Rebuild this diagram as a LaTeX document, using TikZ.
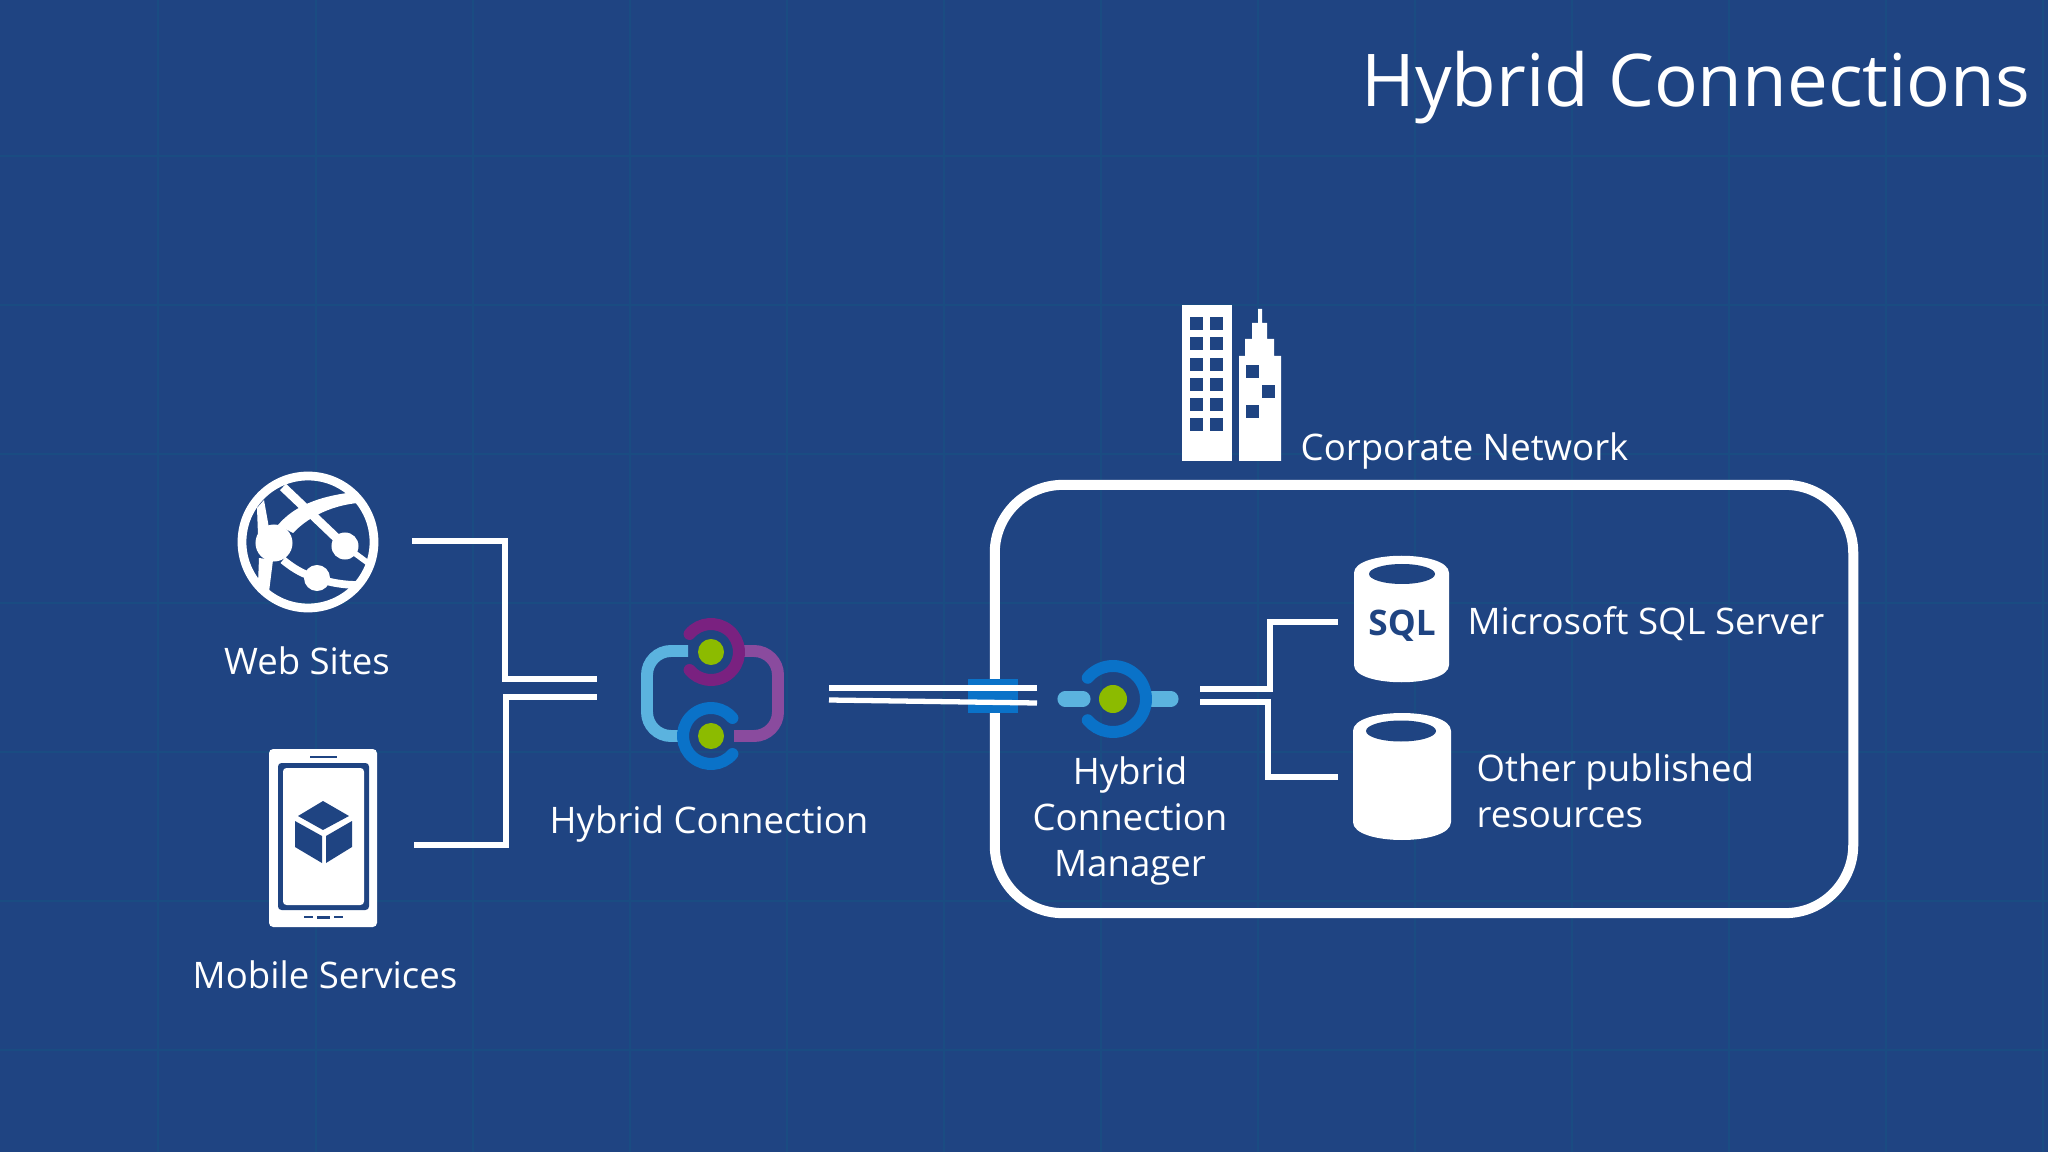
\documentclass[tikz,border=0pt]{standalone}
\usepackage{fontspec}
\setmainfont{Open Sans}
\definecolor{slide}{HTML}{1F4482}
\definecolor{gridline}{HTML}{1A4C82}
\definecolor{hcleaf}{HTML}{8CBB00}
\definecolor{hcsky}{HTML}{5BB3DF}
\definecolor{hcblue}{HTML}{0A72C8}
\definecolor{hcplum}{HTML}{7A2180}
\definecolor{hcmauve}{HTML}{8A4B9E}
\begin{document}
\begin{tikzpicture}[
	x = 0.01cm, y = -0.01cm, % one unit is one pixel of the slide
	wire/.style = {draw=white, line width=1.5pt, miter limit=10},
	arcline/.style = {line width=3.4pt},
	fillw/.style = {fill=white, draw=none},
	fillb/.style = {fill=slide, draw=none},
	dot/.style = {circle, fill=hcleaf, inner sep=0pt, minimum size=0.28cm},
	label/.style = {text=white, font=\fontsize{10.4}{13.1}\selectfont, inner sep=0pt, align=center},
	]

	\useasboundingbox (0,0) rectangle (2048,1152);
	\fill[slide] (0,0) rectangle (2048,1152);
	\foreach \gx in {158,316,473,630,787,944,1101,1258,1415,1572,1729,1886,2043}
		\draw[gridline, line width=0.6pt] (\gx,0) -- (\gx,1152);
	\foreach \gy in {156,305,454,603,752,901,1050}
		\draw[gridline, line width=0.5pt] (0,\gy) -- (2048,\gy);

	% title and labels
	\node[label, anchor=east, font=\fontsize{20.7}{26}\selectfont] (title) at (2031,88) {Hybrid Connections};
	\node[label] (weblabel) at (307,661) {Web Sites};
	\node[label] (moblabel) at (325,975) {Mobile Services};
	\node[label] (hclabel) at (709,824) {Hybrid Connection};
	\node[label, anchor=west] (corplabel) at (1300,451) {Corporate Network};
	\node[label, anchor=west] (sqllabel) at (1467,624) {Microsoft SQL Server};
	\node[label, anchor=west, align=left] (otherlabel) at (1476,791) {Other published\\resources};
	\node[label] (hcmlabel) at (1130,821) {Hybrid\\Connection\\Manager};

	% corporate network frame
	\node[draw=white, line width=2.85pt, rounded corners=0.68cm, minimum width=8.58cm, minimum height=4.28cm, outer sep=0pt] (corp) at (1424,699) {};

	% connector end points
	\coordinate (webout) at (412,541);
	\coordinate (mobout) at (414,845);
	\coordinate (hcina) at (597,679);
	\coordinate (hcinb) at (597,697);
	\coordinate (hcouta) at (829,688);
	\coordinate (hcoutb) at (829,700);
	\coordinate (hcmina) at (1037,688);
	\coordinate (hcminb) at (1037,703);
	\coordinate (hcmouta) at (1200,689);
	\coordinate (hcmoutb) at (1200,702);
	\coordinate (sqlin) at (1338,622);
	\coordinate (otherin) at (1338,777);

	\fill[hcblue] (968,679) rectangle (1018,713);
	\draw[wire] (webout) -- ++(93,0) |- (hcina);
	\draw[wire] (mobout) -- ++(92,0) |- (hcinb);
	\draw[wire] (hcouta) -- (hcmina);
	\draw[wire] (hcoutb) -- (hcminb);
	\draw[wire] (hcmouta) -- ++(70,0) |- (sqlin);
	\draw[wire] (hcmoutb) -- ++(68,0) |- (otherin);

	% web sites globe
	\draw[white, line width=2.5pt] (308,542) circle[radius=66];
	\draw[white, line width=2.5pt] (283,487) -- (345,546);
	\draw[white, line width=1.6pt] (345,546) -- (368,563);
	\fill[fillw] (278,525) .. controls (295,505) and (320,497) .. (347,493) -- (358,503) .. controls (335,505) and (310,515) .. (293,533) -- cycle;
	\fill[fillw] (257,508) -- (264,500) -- (269,528) -- (258,535) -- cycle;
	\fill[fillw] (259,558) -- (273,560) -- (269,592) -- (258,584) -- cycle;
	\draw[white, line width=2.2pt] (283,560) .. controls (295,570) and (305,575) .. (317,578) .. controls (330,583) and (345,585) .. (358,585);
	\node[circle, fill=white, inner sep=0pt, minimum size=0.37cm] (webhub) at (274,543) {};
	\node[circle, fill=white, inner sep=0pt, minimum size=0.27cm] (webnodea) at (345,546) {};
	\node[circle, fill=white, inner sep=0pt, minimum size=0.26cm] (webnodeb) at (317,578) {};

	% mobile services phone
	\fill[fillw, rounded corners=1.2pt] (269,749) rectangle (377,927);
	\fill[fillb, rounded corners=1pt] (278,763) rectangle (369,910);
	\fill[fillw, rounded corners=1pt] (283,768) rectangle (364,905);
	\fill[fillb] (310,755.5) rectangle (337,758);
	\fill[fillb] (304,915.5) rectangle (313,918);
	\fill[fillb] (317,915.5) rectangle (330,918.5);
	\fill[fillb] (334,915.5) rectangle (343,918);
	\fill[fillb] (323,801) -- (349,816) -- (323,830) -- (298,816) -- cycle;
	\fill[fillb] (295,821) -- (322,836) -- (322,863) -- (295,847) -- cycle;
	\fill[fillb] (326,836) -- (352,821) -- (352,847) -- (326,863) -- cycle;

	% hybrid connection
	\draw[hcsky, arcline, rounded corners=0.24cm] (688,651) -- (647,651) -- (647,736) -- (680,736);
	\draw[hcmauve, arcline, rounded corners=0.24cm] (742,651) -- (778,651) -- (778,736) -- (734,736);
	\draw[hcplum, arcline, line cap=round] (711,652) ++(-140:28) arc[start angle=-140, end angle=140, radius=28];
	\draw[hcblue, arcline, line cap=round] (711,736) ++(40:28) arc[start angle=40, end angle=320, radius=28];
	\node[dot, minimum size=0.26cm] (hcdota) at (711,652) {};
	\node[dot, minimum size=0.26cm] (hcdotb) at (711,736) {};

	% hybrid connection manager
	\draw[hcsky, line width=4.3pt, line cap=round] (1065,699) -- (1083,699);
	\draw[hcsky, line width=4.3pt, line cap=round] (1150,699) -- (1171,699);
	\draw[hcblue, arcline, line cap=round] (1113,699) ++(-140:33) arc[start angle=-140, end angle=140, radius=33];
	\node[dot] (hcmdot) at (1113,699) {};

	% buildings
	\fill[fillw] (1182,305) rectangle (1232,461);
	\foreach \wx in {1190,1210}
		\foreach \wy in {317,337,358,378,398,418}
			\fill[fillb] (\wx,\wy) rectangle ++(13,13);
	\fill[fillw] (1239,461) -- (1239,356) -- (1245,356) -- (1245,339) -- (1252,339) -- (1252,323) -- (1258,323) -- (1258,309)
		-- (1262,309) -- (1262,323) -- (1267,323) -- (1267,339) -- (1274,339) -- (1274,356) -- (1281,356) -- (1281,461) -- cycle;
	\fill[fillb] (1246,365) rectangle ++(13,13);
	\fill[fillb] (1262,385) rectangle ++(13,13);
	\fill[fillb] (1246,405) rectangle ++(13,13);

	% databases
	\fill[fillw] (1354,573) .. controls (1354,550) and (1449,550) .. (1449,573) -- (1449,665) .. controls (1449,688) and (1354,688) .. (1354,665) -- cycle;
	\fill[fillb] (1402,574) ellipse[x radius=33, y radius=10];
	\node[text=slide, inner sep=0pt, font=\fontsize{10}{12}\selectfont\bfseries] (sqltext) at (1402,626) {SQL};
	\fill[fillw] (1353,731) .. controls (1353,707) and (1451,707) .. (1451,731) -- (1451,822) .. controls (1451,846) and (1353,846) .. (1353,822) -- cycle;
	\fill[fillb] (1401,731) ellipse[x radius=35, y radius=10.5];

\end{tikzpicture}
\end{document}
